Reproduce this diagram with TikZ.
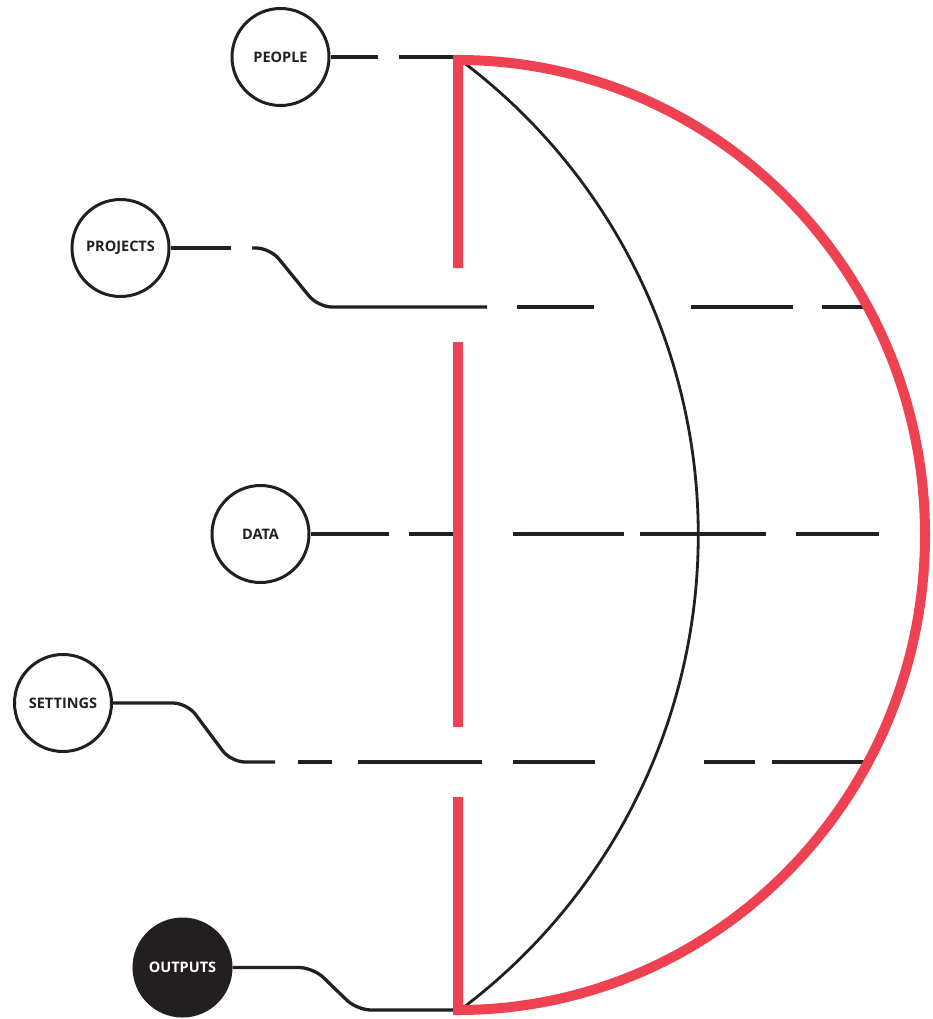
\documentclass[tikz,border=0pt]{standalone}
\usepackage{fontspec}
\setmainfont{Open Sans}
\definecolor{hred}{RGB}{238,66,82}
\definecolor{ink}{RGB}{35,31,32}
\begin{document}
\begin{tikzpicture}[x=1pt,y=-1pt,
  bubble/.style={circle,draw=ink,line width=3pt,minimum size=97pt,inner sep=0pt,fill=white,
    font=\fontsize{14.5}{14.5}\selectfont\bfseries,text=ink},
  darkbubble/.style={bubble,fill=ink,text=white},
  wire/.style={draw=ink,line width=3.3pt,line cap=butt},
  curvy/.style={wire,rounded corners=14pt},
  redline/.style={draw=hred,line width=10pt,line join=miter},
  thinarc/.style={draw=ink,line width=2.8pt}]
\useasboundingbox (0,0) rectangle (932,1019);
% nodes
\node[bubble] (people) at (280.5,57) {PEOPLE};
\node[bubble] (projects) at (120.5,248) {PROJECTS};
\node[bubble] (data) at (260.5,534) {DATA};
\node[bubble] (settings) at (63,703) {SETTINGS};
\node[darkbubble] (outputs) at (182.5,967.5) {OUTPUTS};
% coordinates
\coordinate (pe1) at (378,57);
\coordinate (pe2) at (399,57);
\coordinate (pe3) at (453,57);
\coordinate (pr1) at (231,248);
\coordinate (pr2) at (252,248);
\coordinate (pr3) at (487,307);
\coordinate (pr4) at (517,307);
\coordinate (pr5) at (594,307);
\coordinate (pr6) at (691,307);
\coordinate (pr7) at (793,307);
\coordinate (pr8) at (822,307);
\coordinate (pr9) at (868,307);
\coordinate (da1) at (389,534);
\coordinate (da2) at (409,534);
\coordinate (da3) at (453,534);
\coordinate (da4) at (513,534);
\coordinate (da5) at (624,534);
\coordinate (da6) at (640,534);
\coordinate (da7) at (766,534);
\coordinate (da8) at (796,534);
\coordinate (da9) at (879,534);
\coordinate (se1) at (275,762);
\coordinate (se2) at (298,762);
\coordinate (se3) at (332,762);
\coordinate (se4) at (358,762);
\coordinate (se5) at (482,762);
\coordinate (se6) at (513,762);
\coordinate (se7) at (595,762);
\coordinate (se8) at (704,762);
\coordinate (se9) at (755,762);
\coordinate (se10) at (772,762);
\coordinate (se11) at (866,762);
\coordinate (ou1) at (453,1010);
% black inner arc
\draw[thinarc] (463,62) arc[start angle=-52.9, end angle=52.9, radius=592.9];
% connectors
\draw[wire] (people.east) -- (pe1);
\draw[wire] (pe2) -- (pe3);
\draw[wire] (projects.east) -- (pr1);
\draw[curvy] (pr2) -- (270,248) -- (318,307) -- (pr3);
\draw[wire] (pr4) -- (pr5);
\draw[wire] (pr6) -- (pr7);
\draw[wire] (pr8) -- (pr9);
\draw[wire] (data.east) -- (da1);
\draw[wire] (da2) -- (da3);
\draw[wire] (da4) -- (da5);
\draw[wire] (da6) -- (da7);
\draw[wire] (da8) -- (da9);
\draw[curvy] (settings.east) -- (187,703) -- (231,762) -- (se1);
\draw[wire] (se2) -- (se3);
\draw[wire] (se4) -- (se5);
\draw[wire] (se6) -- (se7);
\draw[wire] (se8) -- (se9);
\draw[wire] (se10) -- (se11);
\draw[curvy] (outputs.east) -- (313,967.5) -- (357,1010) -- (ou1);
% red shape
\draw[redline] (458,268) -- (458,60) arc[start angle=-90, end angle=90, x radius=467, y radius=475] -- (458,797);
\draw[redline] (458,342) -- (458,727);
\end{tikzpicture}
\end{document}
